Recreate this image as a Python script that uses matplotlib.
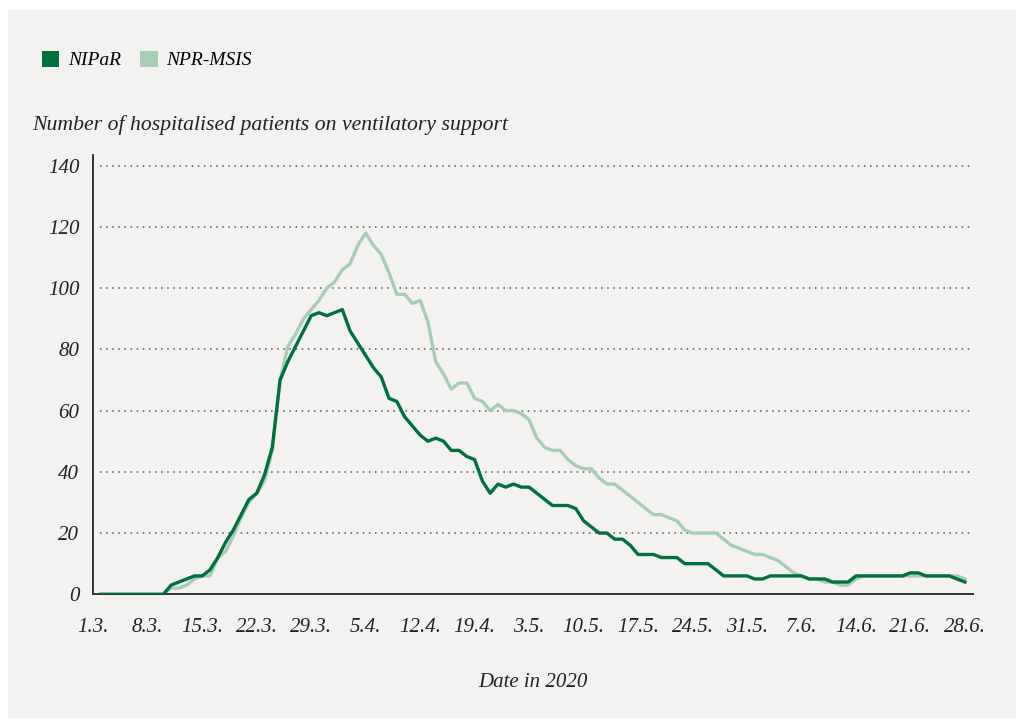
import numpy as np
import matplotlib.pyplot as plt
from matplotlib.patches import Patch, Rectangle

# daily counts, day 1 = 2 March (day 0 = axis start, labelled 1.3.)
days = np.arange(1, 113)

nipar = [0, 0, 0, 0, 0, 0, 0, 0, 0, 3,
         4, 5, 6, 6, 8, 12, 17, 21, 26, 31,
         33, 39, 48, 70, 76, 81, 86, 91, 92, 91,
         92, 93, 86, 82, 78, 74, 71, 64, 63, 58,
         55, 52, 50, 51, 50, 47, 47, 45, 44, 37,
         33, 36, 35, 36, 35, 35, 33, 31, 29, 29,
         29, 28, 24, 22, 20, 20, 18, 18, 16, 13,
         13, 13, 12, 12, 12, 10, 10, 10, 10, 8,
         6, 6, 6, 6, 5, 5, 6, 6, 6, 6,
         6, 5, 5, 5, 4, 4, 4, 6, 6, 6,
         6, 6, 6, 6, 7, 7, 6, 6, 6, 6,
         5, 4]

npr_msis = [0, 0, 0, 0, 0, 0, 0, 0, 0, 2,
            2, 3, 5, 6, 6, 12, 14, 19, 25, 30,
            33, 37, 47, 70, 81, 85, 90, 93, 96, 100,
            102, 106, 108, 114, 118, 114, 111, 105, 98, 98,
            95, 96, 89, 76, 72, 67, 69, 69, 64, 63,
            60, 62, 60, 60, 59, 57, 51, 48, 47, 47,
            44, 42, 41, 41, 38, 36, 36, 34, 32, 30,
            28, 26, 26, 25, 24, 21, 20, 20, 20, 20,
            18, 16, 15, 14, 13, 13, 12, 11, 9, 7,
            6, 5, 5, 4, 4, 3, 3, 5, 6, 6,
            6, 6, 6, 6, 6, 6, 6, 6, 6, 6,
            6, 5]

tick_days = np.arange(0, 113, 7)
tick_labels = ["1.3.", "8.3.", "15.3.", "22.3.", "29.3.", "5.4.", "12.4.", "19.4.",
               "3.5.", "10.5.", "17.5.", "24.5.", "31.5.", "7.6.", "14.6.", "21.6.", "28.6."]

dark = "#00703c"
light = "#a7cdb6"
bg = "#f3f2f0"

plt.rcParams['font.family'] = ['Liberation Serif', 'DejaVu Serif']
plt.rcParams['font.style'] = 'italic'

fig = plt.figure(figsize=(10.23, 7.25), dpi=100)
fig.patch.set_facecolor("white")
fig.patches.append(Rectangle((8/1023, 7/725), 1008/1023, 708/725, transform=fig.transFigure,
                             facecolor=bg, edgecolor="none", zorder=-10))

ax = fig.add_axes([0.0912, 0.1803, 0.8596, 0.6059])
ax.set_facecolor(bg)

# dotted grid lines
for y in range(20, 141, 20):
    ax.hlines(y, 0.9, 113, colors="#555555", linestyles=(0, (1, 3)), linewidth=1.1, zorder=1)

ax.plot(days, npr_msis, color=light, lw=2.4, zorder=2)
ax.plot(days, nipar, color=dark, lw=2.4, zorder=3)

ax.set_xlim(0, 113)
ax.set_ylim(0, 143.5)
ax.set_yticks(range(0, 141, 20))
ax.set_xticks(tick_days)
ax.set_xticklabels(tick_labels)
ax.tick_params(length=0, labelsize=15, colors="#222222")
ax.tick_params(axis="x", pad=17)
ax.tick_params(axis="y", pad=10)
for s in ["top", "right"]:
    ax.spines[s].set_visible(False)
for s in ["left", "bottom"]:
    ax.spines[s].set_color("#333333")
    ax.spines[s].set_linewidth(1.4)

ax.set_xlabel("Date in 2020", fontsize=15, labelpad=26, color="#222222")

fig.text(32/1023, 1 - 125/725, "Number of hospitalised patients on ventilatory support",
         fontsize=15.7, va="center", ha="left", color="#222222")

handles = [Patch(facecolor=dark, label="NIPaR"), Patch(facecolor=light, label="NPR-MSIS")]
fig.legend(handles=handles, loc="center left", bbox_to_anchor=(24/1023, 1 - 60/725),
           ncol=2, frameon=False, fontsize=14, handlelength=0.9, handleheight=0.9,
           handletextpad=0.45, columnspacing=1.0)

fig.savefig("out.png", dpi=100, facecolor=fig.get_facecolor())
